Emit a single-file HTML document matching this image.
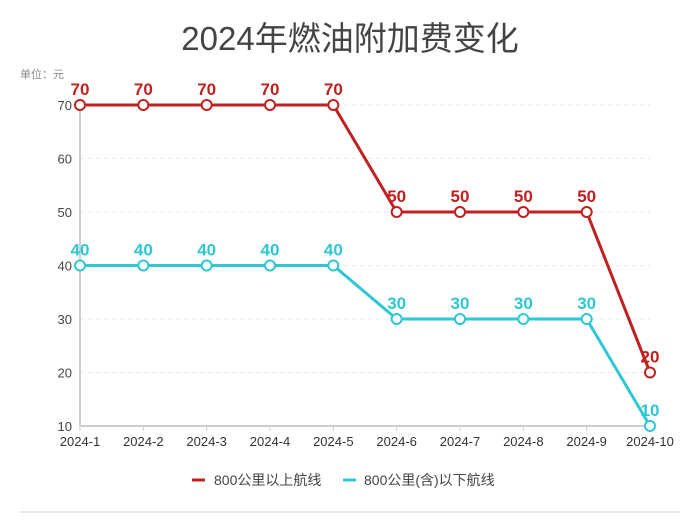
<!DOCTYPE html>
<html><head><meta charset="utf-8"><style>
body{margin:0;background:#fff;width:700px;height:525px;overflow:hidden;font-family:"Liberation Sans","Noto Sans CJK SC",sans-serif}
</style></head><body>
<svg id="c" width="700" height="525" xmlns="http://www.w3.org/2000/svg">
<text x="350" y="50" text-anchor="middle" font-size="33" fill="#444" font-family="Liberation Sans,Noto Sans CJK SC,sans-serif">2024年燃油附加费变化</text>
<text x="20" y="78" font-size="11" fill="#888" font-family="Liberation Sans,Noto Sans CJK SC,sans-serif">单位：元</text>
<g id="grid"></g><g id="axes"></g><g id="series"></g>
<g font-family="Liberation Sans,Noto Sans CJK SC,sans-serif" font-size="14" fill="#444">
<g><line x1="192" y1="480" x2="205" y2="480" stroke="#c0201f" stroke-width="3"/><text x="214" y="485">800公里以上航线</text></g>
<g><line x1="343" y1="480" x2="356" y2="480" stroke="#2ec7d3" stroke-width="3"/><text x="364" y="485">800公里(含)以下航线</text></g>
</g>
<line x1="20" y1="512" x2="680" y2="512" stroke="#e6e6e6" stroke-width="2"/>
</svg>
<script>
const categories=["2024-1","2024-2","2024-3","2024-4","2024-5","2024-6","2024-7","2024-8","2024-9","2024-10"];
const seriesAbove=[70,70,70,70,70,50,50,50,50,20];
const seriesBelow=[40,40,40,40,40,30,30,30,30,10];
const yTicks=[10,20,30,40,50,60,70];
const NS="http://www.w3.org/2000/svg";
const x0=80,x1=650,yTop=105,yBot=426,vMin=10,vMax=70;
const xs=i=>x0+i*(x1-x0)/(categories.length-1);
const ys=v=>yBot-(v-vMin)*(yBot-yTop)/(vMax-vMin);
function mk(p,tag,a){const e=document.createElementNS(NS,tag);for(const k in a)e.setAttribute(k,a[k]);p.appendChild(e);return e;}
const grid=document.getElementById('grid'),axes=document.getElementById('axes'),ser=document.getElementById('series');
yTicks.forEach(v=>{
 if(v>vMin){const g=mk(grid,'line',{x1:x0,x2:x1,y1:ys(v),y2:ys(v),stroke:'#e8e8e8','stroke-dasharray':'4,4'});
 
 }
 const t=mk(axes,'text',{x:x0-8,y:ys(v)+5,'text-anchor':'end','font-size':13,fill:'#444'});t.textContent=v;
 
 
});
const ya=mk(axes,'line',{x1:x0,x2:x0,y1:yTop,y2:yBot,stroke:'#ccc','stroke-width':2});


const xa=mk(axes,'line',{x1:x0,x2:x1,y1:yBot,y2:yBot,stroke:'#ccc','stroke-width':2});


categories.forEach((c,i)=>{
 mk(axes,'line',{x1:xs(i),x2:xs(i),y1:yBot,y2:yBot+5,stroke:'#ccc'});
 const t=mk(axes,'text',{x:xs(i),y:yBot+20,'text-anchor':'middle','font-size':13,fill:'#333'});t.textContent=c;
 
 
});
function draw(data,color,name){
 const g=mk(ser,'g',{});
 
 
 mk(g,'polyline',{points:data.map((v,i)=>xs(i)+','+ys(v)).join(' '),fill:'none',stroke:color,'stroke-width':3});
 data.forEach((v,i)=>{
  const p=mk(g,'circle',{cx:xs(i),cy:ys(v),r:5,fill:'#fff',stroke:color,'stroke-width':2});
  
  
  const t=mk(g,'text',{x:xs(i),y:ys(v)-10,'text-anchor':'middle','font-size':17,'font-weight':'bold',fill:color});t.textContent=v;
  
  
 });
}
draw(seriesBelow,'#2ec7d3','series-below-800km');
draw(seriesAbove,'#c0201f','series-above-800km');
</script>
</body></html>
